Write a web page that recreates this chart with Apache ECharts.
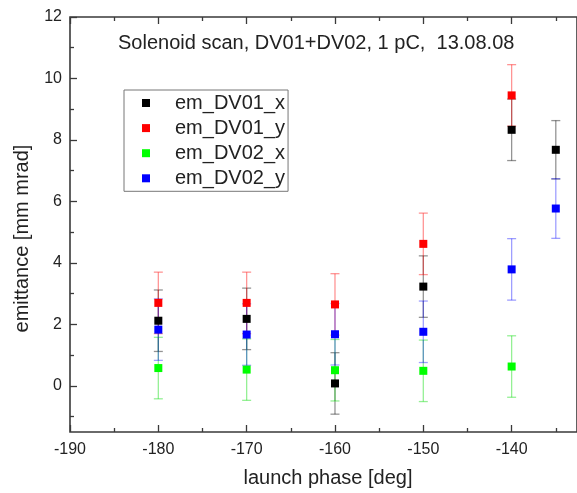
<!DOCTYPE html>
<html>
<head>
<meta charset="utf-8">
<script src="https://cdn.jsdelivr.net/npm/echarts@6/dist/echarts.min.js"></script>
<style>
  html, body { margin: 0; padding: 0; background: #fff; }
  #chart { width: 577px; height: 493px; }
</style>
</head>
<body>
<div id="chart"></div>
<script>
// Solenoid scan: emittance vs. launch phase, with +/- error bars
const seriesNames = ['em_DV01_x', 'em_DV01_y', 'em_DV02_x', 'em_DV02_y'];
const seriesColors = ['#000000', '#ff0000', '#00ff00', '#0000ff'];
const barColors = ['rgba(0,0,0,0.42)', 'rgba(255,0,0,0.42)', 'rgba(0,220,0,0.42)', 'rgba(0,0,255,0.38)'];

const phaseDV01x = [-180, -170, -160, -150, -140, -135];
const valueDV01x = [2.12, 2.18, 0.08, 3.23, 8.33, 7.68];
const errorDV01x = [1.0, 1.0, 1.0, 1.0, 1.0, 0.95];

const phaseDV01y = [-180, -170, -160, -150, -140];
const valueDV01y = [2.70, 2.70, 2.65, 4.62, 9.45];
const errorDV01y = [1.0, 1.0, 1.0, 1.0, 1.0];

const phaseDV02x = [-180, -170, -160, -150, -140];
const valueDV02x = [0.58, 0.53, 0.51, 0.49, 0.63];
const errorDV02x = [1.0, 1.0, 1.0, 1.0, 1.0];

const phaseDV02y = [-180, -170, -160, -150, -140, -135];
const valueDV02y = [1.83, 1.67, 1.68, 1.76, 3.79, 5.77];
const errorDV02y = [1.0, 1.0, 1.0, 1.0, 1.0, 0.97];

const xMajorTicks = [-190, -180, -170, -160, -150, -140];
const xMinorTicks = [-185, -175, -165, -155, -145, -135];
const yMajorTicks = [0, 2, 4, 6, 8, 10, 12];
const yMinorTicks = [-1, 1, 3, 5, 7, 9, 11];

const titleText = 'Solenoid scan, DV01+DV02, 1 pC,  13.08.08';

const groups = [
  [phaseDV01x, valueDV01x, errorDV01x],
  [phaseDV01y, valueDV01y, errorDV01y],
  [phaseDV02x, valueDV02x, errorDV02x],
  [phaseDV02y, valueDV02y, errorDV02y]
];

const FONT = '"Liberation Sans", Arial, sans-serif';
const axisColor = '#3a3a3a';

// square legend marker with blank space around it
const legendIcon = 'path://M0,0 M36,8 M8,0 L16,0 L16,8 L8,8 Z';

function errorBarSeries(idx) {
  const [xs, ys, es] = groups[idx];
  const data = xs.map((x, i) => [x, ys[i] - es[i], ys[i] + es[i]]);
  return {
    type: 'custom',
    name: seriesNames[idx] + ' error',
    xAxisIndex: 0,
    yAxisIndex: 0,
    z: 2,
    silent: true,
    data: data,
    encode: { x: 0, y: [1, 2] },
    renderItem: function (params, api) {
      const x = api.value(0);
      const lo = api.coord([x, api.value(1)]);
      const hi = api.coord([x, api.value(2)]);
      const half = 4.5;
      const style = { stroke: barColors[idx], lineWidth: 1.3, fill: null };
      return {
        type: 'group',
        children: [
          { type: 'line', shape: { x1: lo[0], y1: lo[1], x2: hi[0], y2: hi[1] }, style: style },
          { type: 'line', shape: { x1: lo[0] - half, y1: lo[1], x2: lo[0] + half, y2: lo[1] }, style: style },
          { type: 'line', shape: { x1: hi[0] - half, y1: hi[1], x2: hi[0] + half, y2: hi[1] }, style: style }
        ]
      };
    }
  };
}

function pointSeries(idx) {
  const [xs, ys] = groups[idx];
  return {
    type: 'scatter',
    name: seriesNames[idx],
    xAxisIndex: 0,
    yAxisIndex: 0,
    z: 3,
    symbol: 'rect',
    symbolSize: 8,
    itemStyle: { color: seriesColors[idx], opacity: 1 },
    data: xs.map((x, i) => [x, ys[i]])
  };
}

const xExtent = { min: -190, max: -132.6 };
const yExtent = { min: -1.5, max: 12 };

function tickAxis(position, values, length, extra) {
  return Object.assign({
    type: 'value',
    position: position,
    gridIndex: 0,
    axisLine: { show: false, onZero: false },
    axisTick: { show: true, inside: true, length: length, customValues: values, lineStyle: { color: axisColor, width: 1.3 } },
    axisLabel: { show: false },
    splitLine: { show: false }
  }, extra);
}

const chart = echarts.init(document.getElementById('chart'), null, { renderer: 'canvas' });

chart.setOption({
  animation: false,
  backgroundColor: '#ffffff',
  textStyle: { fontFamily: FONT },
  title: {
    text: titleText,
    left: 118,
    top: 33,
    padding: 0,
    textStyle: { fontFamily: FONT, fontSize: 20, fontWeight: 'normal', color: '#222' }
  },
  legend: {
    orient: 'vertical',
    left: 124,
    top: 90,
    padding: [3, 3, 3, 10],
    itemGap: 5.1,
    itemWidth: 36,
    itemHeight: 8,
    icon: legendIcon,
    borderColor: '#777',
    borderWidth: 1,
    data: seriesNames,
    textStyle: { fontFamily: FONT, fontSize: 20, color: '#222' }
  },
  grid: {
    left: 70, right: -4, top: 17, bottom: 60,
    show: true,
    borderColor: axisColor,
    borderWidth: 1.6,
    backgroundColor: 'transparent'
  },
  xAxis: [
    tickAxis('bottom', xMajorTicks, 7, {
      min: xExtent.min, max: xExtent.max,
      name: 'launch phase [deg]',
      nameLocation: 'middle',
      nameGap: 36,
      nameTextStyle: { fontFamily: FONT, fontSize: 20, color: '#222', padding: [0, 0, 0, 9] },
      axisLabel: { show: true, customValues: xMajorTicks, margin: 10, fontFamily: FONT, fontSize: 16, color: '#222' }
    }),
    tickAxis('bottom', xMinorTicks, 4, { min: xExtent.min, max: xExtent.max }),
    tickAxis('top', xMajorTicks, 7, { min: xExtent.min, max: xExtent.max }),
    tickAxis('top', xMinorTicks, 4, { min: xExtent.min, max: xExtent.max })
  ],
  yAxis: [
    tickAxis('left', yMajorTicks, 7, {
      min: yExtent.min, max: yExtent.max,
      name: 'emittance [mm mrad]',
      nameLocation: 'middle',
      nameGap: 38,
      nameRotate: 90,
      nameTextStyle: { fontFamily: FONT, fontSize: 20, color: '#222', padding: [0, 28, 0, 0] },
      axisLabel: { show: true, customValues: yMajorTicks, margin: 8, fontFamily: FONT, fontSize: 16, color: '#222' }
    }),
    tickAxis('left', yMinorTicks, 4, { min: yExtent.min, max: yExtent.max })
  ],
  series: [0, 1, 2, 3].map(errorBarSeries).concat([0, 1, 2, 3].map(pointSeries))
});
</script>
</body>
</html>
